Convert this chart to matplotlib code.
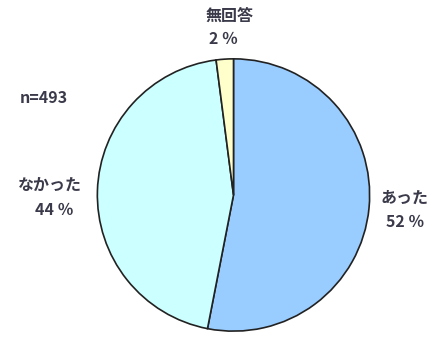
import matplotlib
matplotlib.use("Agg")
import matplotlib.pyplot as plt

plt.rcParams['font.family'] = ['Noto Sans CJK JP', 'DejaVu Sans']

# データ
labels = ["あった", "なかった", "無回答"]
values = [52, 44, 2]
colors = ["#99CCFF", "#CCFFFF", "#FFFFCC"]
n_label = "n=493"

fig = plt.figure(figsize=(4.35, 3.38), dpi=100)
ax = fig.add_axes([96 / 435, 5 / 338, 275 / 435, 276 / 338])
ax.pie(values, colors=colors, startangle=90, counterclock=False, radius=1,
       wedgeprops=dict(edgecolor="#222222", linewidth=1.2))
ax.set_xlim(-1.01, 1.01)
ax.set_ylim(-1.01, 1.01)
ax.set_aspect("equal")
ax.axis("off")

txt = dict(fontsize=11.5, fontweight="bold", color="#3a3a4a", ha="center", va="center")
W, H = 435, 338

def put(x, y, s, **kw):
    fig.text(x / W, 1 - y / H, s, **{**txt, **kw})

put(230, 16, "無回答")
put(224, 39, f"{values[2]} ％")
put(44, 98, n_label)
put(50, 185, "なかった")
put(54, 210, f"{values[1]} ％")
put(405, 198, "あった")
put(405, 222, f"{values[0]} ％")

fig.savefig("out.png", dpi=100, facecolor="white")
